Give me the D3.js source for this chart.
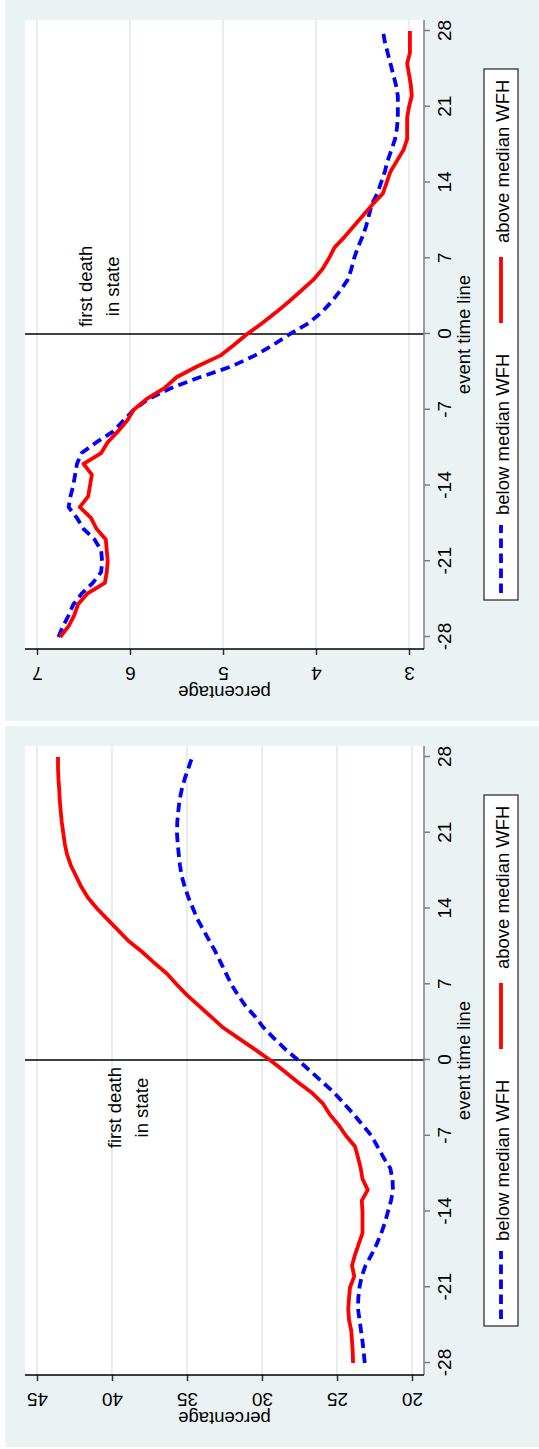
<!DOCTYPE html>
<html>
<head>
<meta charset="utf-8">
<script src="https://cdn.jsdelivr.net/npm/d3@7"></script>
<style>
  html, body { margin: 0; padding: 0; background: #ffffff; }
  svg { display: block; }
</style>
</head>
<body>
<svg id="chart" width="539" height="1449"></svg>
<script>
// ---- data -------------------------------------------------------------
const eventDays = [-28,-27,-26,-25,-24,-23,-22,-21,-20,-19,-18,-17,-16,-15,-14,-13,-12,-11,-10,-9,
  -8,-7,-6,-5,-4,-3,-2,-1,0,1,2,3,4,5,6,7,8,9,10,11,12,13,14,15,16,17,18,19,20,21,22,23,24,25,26,27,28];

// upper panel (percentage, 3–7)
const upperBelowWFH = [6.77,6.72,6.66,6.61,6.52,6.40,6.31,6.30,6.31,6.38,
  6.50,6.57,6.66,6.64,6.61,6.59,6.57,6.52,6.36,6.18,
  6.07,5.96,5.80,5.56,5.25,4.91,4.66,4.46,4.28,4.08,
  3.94,3.83,3.74,3.66,3.62,3.59,3.55,3.50,3.46,3.43,
  3.40,3.34,3.30,3.26,3.23,3.19,3.15,3.13,3.12,3.12,
  3.12,3.14,3.17,3.20,3.23,3.26,3.28];
const upperAboveWFH = [6.75,6.66,6.60,6.56,6.46,6.27,6.25,6.24,6.25,6.26,
  6.36,6.42,6.54,6.45,6.43,6.41,6.50,6.31,6.24,6.13,
  6.03,5.96,5.82,5.63,5.50,5.28,5.03,4.88,4.74,4.58,
  4.43,4.29,4.16,4.03,3.93,3.86,3.80,3.69,3.59,3.49,
  3.39,3.28,3.24,3.20,3.13,3.06,3.02,3.02,3.02,3.00,
  2.97,2.98,3.00,3.02,2.99,2.99,2.99];

// lower panel (percentage, 20–45)
const lowerBelowWFH = [23.15,23.22,23.3,23.4,23.5,23.6,23.58,23.5,23.35,23.1,
  22.7,22.35,22.05,21.8,21.6,21.4,21.27,21.3,21.45,21.9,
  22.3,22.7,23.3,23.9,24.55,25.2,26.0,26.8,27.6,28.45,
  29.2,29.9,30.45,31.1,31.6,32.05,32.4,32.75,33.1,33.5,
  33.9,34.3,34.6,34.9,35.15,35.35,35.47,35.55,35.62,35.67,
  35.65,35.58,35.5,35.35,35.15,34.9,34.65];
const lowerAboveWFH = [23.93,23.95,24.0,24.05,24.2,24.25,24.2,24.13,23.85,24.0,
  23.8,23.55,23.3,23.3,23.3,23.35,22.95,23.3,23.42,23.6,
  23.8,24.4,24.9,25.5,25.95,26.7,27.65,28.55,29.47,30.5,
  31.55,32.6,33.4,34.2,35.0,35.7,36.35,37.2,38.0,38.9,
  39.6,40.3,41.0,41.6,42.05,42.4,42.75,43.0,43.15,43.25,
  43.35,43.42,43.48,43.52,43.57,43.6,43.6];

const eventTicks = [-28,-21,-14,-7,0,7,14,21,28];
const upperPctTicks = [3,4,5,6,7];
const lowerPctTicks = [20,25,30,35,40,45];
const seriesLabels = ["below median WFH", "above median WFH"];
const noteLines = ["first death", "in state"];
const xTitle = "event time line";
const yTitle = "percentage";

// ---- styling ----------------------------------------------------------
const FONT = "'Liberation Sans', Arial, Helvetica, sans-serif";
const BG = "#eaf2f3";
const GRID = "#e1e9ec";
const RED = "#ff0000";
const BLUE = "#0000ff";
const DASH = "9.5,5.5";
const LABEL_SIZE = 18.5;
const TICK_SIZE = 19;
const LINE_W = 3.8;

const svg = d3.select("#chart");

// Each panel is laid out as an ordinary time-series chart (event time
// across, percentage up) and then turned a quarter turn counter-clockwise.
function drawPanel(cfg) {
  const g = svg.append("g")
    .attr("transform", `translate(0,${cfg.bottom}) rotate(-90)`)
    .attr("font-family", FONT);

  const W = 721;            // panel length along the event axis
  const plot = { x0: 72, x1: 701, y0: 25, y1: 424 };

  g.append("rect").attr("x", 0).attr("y", 5).attr("width", W).attr("height", 534).attr("fill", BG);
  g.append("rect").attr("x", plot.x0).attr("y", plot.y0)
    .attr("width", plot.x1 - plot.x0).attr("height", plot.y1 - plot.y0).attr("fill", "#ffffff");

  const x = d3.scaleLinear().domain([-28, 28]).range([84, 690]);
  const y = d3.scaleLinear().domain(cfg.pctDomain).range(cfg.pctRange);

  // horizontal grid
  g.append("g").selectAll("line").data(cfg.pctTicks).join("line")
    .attr("x1", plot.x0).attr("x2", plot.x1)
    .attr("y1", d => y(d)).attr("y2", d => y(d))
    .attr("stroke", GRID).attr("stroke-width", 1.6);

  // first-death reference line
  g.append("line")
    .attr("x1", x(0)).attr("x2", x(0)).attr("y1", plot.y0).attr("y2", plot.y1)
    .attr("stroke", "#000").attr("stroke-width", 1.6);

  const line = d3.line().x((d, i) => x(eventDays[i])).y(d => y(d));

  g.append("path").datum(cfg.below).attr("d", line)
    .attr("fill", "none").attr("stroke", BLUE).attr("stroke-width", LINE_W)
    .attr("stroke-dasharray", DASH).attr("stroke-linejoin", "round");
  g.append("path").datum(cfg.above).attr("d", line)
    .attr("fill", "none").attr("stroke", RED).attr("stroke-width", LINE_W)
    .attr("stroke-linejoin", "round");

  // event-time axis
  const xAxis = g.append("g").attr("transform", `translate(0,${plot.y1})`)
    .call(d3.axisBottom(x).tickValues(eventTicks).tickSize(6).tickPadding(8)
      .tickSizeOuter(0).tickFormat(d => String(d)))
    .attr("font-family", null).attr("font-size", null);
  xAxis.select(".domain").remove();
  xAxis.selectAll(".tick line").attr("stroke", "#7f7f7f").attr("stroke-width", 1.5);
  xAxis.selectAll(".tick text").attr("fill", "#000").attr("font-size", TICK_SIZE);
  g.append("line").attr("x1", plot.x0).attr("x2", plot.x1)
    .attr("y1", plot.y1).attr("y2", plot.y1)
    .attr("stroke", "#7f7f7f").attr("stroke-width", 1.5);

  // percentage axis
  const yAxis = g.append("g").attr("transform", `translate(${plot.x0},0)`)
    .call(d3.axisLeft(y).tickValues(cfg.pctTicks).tickSize(6)
      .tickSizeOuter(0).tickFormat(d => String(d)))
    .attr("font-family", null).attr("font-size", null);
  yAxis.select(".domain").remove();
  yAxis.selectAll(".tick line").attr("stroke", "#333").attr("stroke-width", 1.5);
  yAxis.selectAll(".tick text")
    .attr("x", null).attr("dy", null)
    .attr("text-anchor", "middle")
    .attr("transform", "translate(-18,0) rotate(-90)")
    .attr("fill", "#000").attr("font-size", TICK_SIZE);
  g.append("line").attr("x1", plot.x0).attr("x2", plot.x0)
    .attr("y1", plot.y0).attr("y2", plot.y1)
    .attr("stroke", "#000").attr("stroke-width", 1.5);

  // axis titles
  g.append("text").attr("x", (plot.x0 + plot.x1) / 2).attr("y", 470)
    .attr("text-anchor", "middle").attr("font-size", LABEL_SIZE).text(xTitle);
  g.append("text")
    .attr("transform", `translate(35,${(plot.y0 + plot.y1) / 2}) rotate(-90)`)
    .attr("text-anchor", "middle").attr("font-size", LABEL_SIZE).text(yTitle);

  // annotation next to the reference line
  g.append("g").selectAll("text").data(noteLines).join("text")
    .attr("x", x(cfg.noteDay))
    .attr("y", (d, i) => y(cfg.notePct) + (i - 0.5) * 27)
    .attr("text-anchor", "middle").attr("font-size", LABEL_SIZE)
    .text(d => d);

  // legend
  const lg = g.append("g");
  lg.append("rect").attr("x", 121).attr("y", 484).attr("width", 531).attr("height", 34)
    .attr("fill", "#fff").attr("stroke", "#222").attr("stroke-width", 1.2);
  const keys = [
    { label: seriesLabels[0], color: BLUE, dash: DASH, x0: 128, x1: 196, tx: 206 },
    { label: seriesLabels[1], color: RED, dash: null, x0: 398, x1: 464, tx: 478 }
  ];
  keys.forEach(k => {
    lg.append("line").attr("x1", k.x0).attr("x2", k.x1).attr("y1", 501).attr("y2", 501)
      .attr("stroke", k.color).attr("stroke-width", LINE_W)
      .attr("stroke-dasharray", k.dash);
    lg.append("text").attr("x", k.tx).attr("y", 509).attr("font-size", LABEL_SIZE).text(k.label);
  });
}

drawPanel({
  bottom: 721,
  pctDomain: [7, 3], pctRange: [37, 409], pctTicks: upperPctTicks,
  below: upperBelowWFH, above: upperAboveWFH,
  noteDay: 4.4, notePct: 6.26
});

drawPanel({
  bottom: 1447,
  pctDomain: [45, 20], pctRange: [37, 412], pctTicks: lowerPctTicks,
  below: lowerBelowWFH, above: lowerAboveWFH,
  noteDay: -4.4, notePct: 38.5
});
</script>
</body>
</html>
